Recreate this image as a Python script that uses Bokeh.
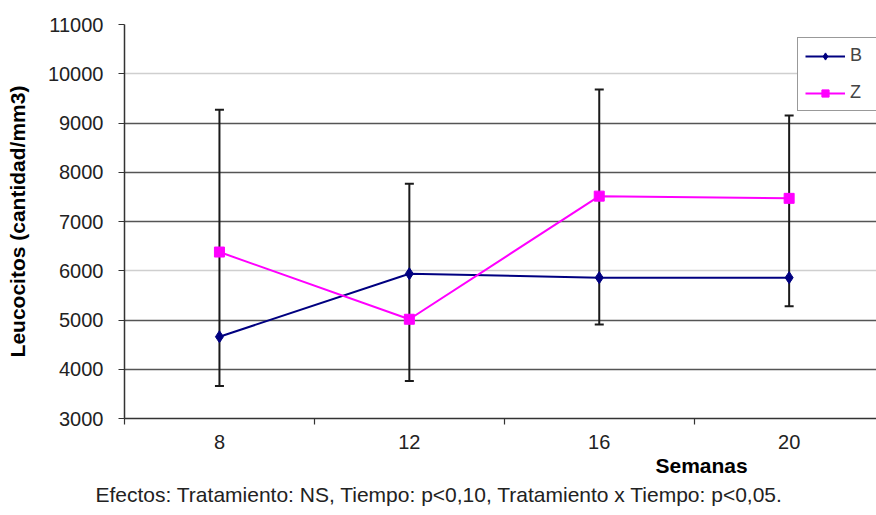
from bokeh.plotting import figure
from bokeh.models import Range1d, FixedTicker, Grid, Title, Legend, LegendItem
from bokeh.embed import file_html
from bokeh.resources import INLINE

# ---- data ----
weeks = [8, 12, 16, 20]
week_labels = ["8", "12", "16", "20"]
b_vals = [4660, 5940, 5860, 5860]
z_vals = [6380, 5015, 7515, 7470]
err_top = [9270, 7765, 9680, 9150]
err_bottom = [3660, 3760, 4910, 5280]
y_ticks = [3000, 4000, 5000, 6000, 7000, 8000, 9000, 10000, 11000]
category_edges = [6, 10, 14, 18]

FONT = "Liberation Sans"

p = figure(width=876, height=515, output_backend="svg", toolbar_location=None,
           x_range=Range1d(6, 21.84), y_range=Range1d(3000, 11000),
           min_border_left=124, min_border_top=24, min_border_right=0,
           min_border_bottom=97)
p.outline_line_color = None
p.background_fill_color = "white"

# grid
p.xgrid.grid_line_color = None
p.ygrid.ticker = FixedTicker(ticks=[t for t in y_ticks if t not in (6000, 10000)])
p.ygrid.grid_line_color = "#555555"
p.ygrid.grid_line_width = 1.6
light = Grid(dimension=1, ticker=FixedTicker(ticks=[6000, 10000]),
             grid_line_color="#cfcfcf", grid_line_width=1.6)
p.add_layout(light)

# y axis
ya = p.yaxis[0]
ya.ticker = FixedTicker(ticks=y_ticks, minor_ticks=[])
ya.axis_label = "Leucocitos (cantidad/mm3)"
ya.axis_label_text_font = FONT
ya.axis_label_text_font_style = "bold"
ya.axis_label_text_font_size = "21px"
ya.axis_label_text_color = "black"
ya.axis_label_standoff = 16
ya.major_label_text_font = FONT
ya.major_label_text_font_size = "20px"
ya.major_label_text_color = "#222222"
ya.major_label_standoff = 15
ya.major_tick_out = 6
ya.major_tick_in = 0
ya.axis_line_color = "#333333"
ya.axis_line_width = 1.5
ya.major_tick_line_color = "#333333"
ya.major_tick_line_width = 1.2

# x axis
xa = p.xaxis[0]
xa.ticker = FixedTicker(ticks=weeks, minor_ticks=category_edges)
xa.major_label_overrides = {w: l for w, l in zip(weeks, week_labels)}
xa.major_label_text_font = FONT
xa.major_label_text_font_size = "20px"
xa.major_label_text_color = "#222222"
xa.major_label_standoff = 10
xa.major_tick_line_color = None
xa.major_tick_out = 6
xa.minor_tick_out = 6
xa.minor_tick_in = 0
xa.minor_tick_line_color = "#333333"
xa.minor_tick_line_width = 1.2
xa.axis_line_color = "#333333"
xa.axis_line_width = 1.5

# error bars
p.segment(x0=weeks, y0=err_bottom, x1=weeks, y1=err_top, line_color="#1a1a1a", line_width=2)
p.scatter(x=weeks + weeks, y=err_top + err_bottom, marker="dash", size=9,
          line_color="#1a1a1a", line_width=2)

# series
b_line = p.line(weeks, b_vals, line_color="#000080", line_width=2)
b_pts = p.scatter(weeks, b_vals, marker="diamond", size=12, fill_color="#000080",
                  line_color="#000080")
z_line = p.line(weeks, z_vals, line_color="#ff00ff", line_width=2)
z_pts = p.scatter(weeks, z_vals, marker="square", size=10, fill_color="#ff00ff",
                  line_color="#ff00ff")

legend = Legend(items=[LegendItem(label="B", renderers=[b_line, b_pts]),
                       LegendItem(label="Z", renderers=[z_line, z_pts])],
                location=(673, 307), margin=0, padding=7, spacing=16,
                glyph_width=40, glyph_height=18, label_standoff=5,
                label_text_font=FONT, label_text_font_size="18px",
                border_line_color="#333333", border_line_width=1,
                background_fill_color="white", background_fill_alpha=1)
p.add_layout(legend, "center")

p.add_layout(Title(text="Semanas", align="left", offset=531, standoff=0,
                   text_font=FONT, text_font_style="bold", text_font_size="21px",
                   text_color="black"), "below")
p.add_layout(Title(text="Efectos: Tratamiento: NS, Tiempo: p<0,10, Tratamiento x Tiempo: p<0,05.",
                   align="left", offset=-29, standoff=8,
                   text_font=FONT, text_font_style="normal", text_font_size="21px",
                   text_color="#222222"), "below")

open("out.html", "w").write(file_html(p, INLINE))
